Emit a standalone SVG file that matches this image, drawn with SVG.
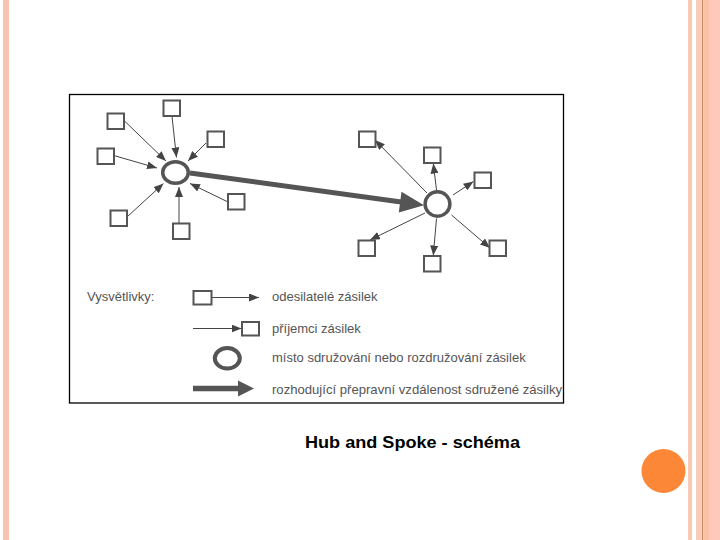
<svg xmlns="http://www.w3.org/2000/svg" width="720" height="540" viewBox="0 0 720 540">
<defs>
<marker id="ah" markerUnits="userSpaceOnUse" markerWidth="10" markerHeight="8" refX="10" refY="4" orient="auto">
<path d="M0,0 L10,4 L0,8 z" fill="#444"/>
</marker>
</defs>
<style>
.sq{fill:#fff;stroke:#555;stroke-width:2}
.sp{stroke:#444;stroke-width:1;fill:none;marker-end:url(#ah)}
.hub{fill:#fff;stroke:#555;stroke-width:3.5}
.lg{font-family:"Liberation Sans",Arial,sans-serif;font-size:13px;fill:#555}
</style>
<rect width="720" height="540" fill="#fff"/>
<g id="decor">
<rect x="3" y="0" width="6" height="540" fill="#f8c4b0"/>
<rect x="688" y="0" width="4" height="540" fill="#f8c8b4"/>
<rect x="696" y="0" width="6" height="540" fill="#f9ccb9"/>
<rect x="702" y="0" width="1.3" height="540" fill="#d08a63"/>
<rect x="703.3" y="0" width="6" height="540" fill="#fcc2a8"/>
<rect x="709" y="0" width="11" height="540" fill="#ffc9ba"/>
<circle cx="663.5" cy="471" r="22" fill="#fb8737"/>
</g>
<rect x="69.5" y="94.5" width="494" height="308.5" fill="#fff" stroke="#000" stroke-width="1.3"/>
<g id="connectors">
<line class="sp" x1="125" y1="121.5" x2="166" y2="161"/>
<line class="sp" x1="172" y1="116.5" x2="176.5" y2="157.5"/>
<line class="sp" x1="206" y1="143" x2="188" y2="161"/>
<line class="sp" x1="114.5" y1="155.7" x2="157" y2="168"/>
<line class="sp" x1="227" y1="201.5" x2="190" y2="183.5"/>
<line class="sp" x1="127.5" y1="216.5" x2="163.5" y2="183.5"/>
<line class="sp" x1="179" y1="223" x2="179" y2="187"/>
<line class="sp" x1="427" y1="193" x2="375" y2="140"/>
<line class="sp" x1="436.5" y1="190" x2="433.3" y2="163.5"/>
<line class="sp" x1="453" y1="195" x2="473.5" y2="181.5"/>
<line class="sp" x1="425" y1="213" x2="370" y2="240"/>
<line class="sp" x1="451.5" y1="215" x2="490" y2="248"/>
<line class="sp" x1="436.5" y1="218.5" x2="433.3" y2="255.5"/>
<line x1="190" y1="173" x2="403" y2="202.3" stroke="#555" stroke-width="5"/>
<path d="M424,205.2 L401.5,191.8 L398.8,212.6 z" fill="#555"/>
</g>
<g id="hub-left"><ellipse class="hub" cx="175.5" cy="172.5" rx="12.8" ry="10.8"/></g>
<g id="hub-right"><ellipse class="hub" cx="437.5" cy="204" rx="12.4" ry="12.2"/></g>
<g id="senders">
<rect class="sq" x="107.5" y="113.5" width="16.5" height="15.5"/>
<rect class="sq" x="163.5" y="100.5" width="16.5" height="15.5"/>
<rect class="sq" x="207.5" y="131.5" width="16.5" height="15.5"/>
<rect class="sq" x="97.5" y="148.5" width="16.5" height="15.5"/>
<rect class="sq" x="228" y="194" width="16.5" height="15.5"/>
<rect class="sq" x="110.5" y="210.5" width="16.5" height="15.5"/>
<rect class="sq" x="173" y="223.5" width="16.5" height="15.5"/>
</g>
<g id="receivers">
<rect class="sq" x="359" y="131.5" width="16.5" height="15.5"/>
<rect class="sq" x="424" y="147.5" width="16.5" height="15.5"/>
<rect class="sq" x="474.5" y="172.5" width="16.5" height="15.5"/>
<rect class="sq" x="358.5" y="240.5" width="16.5" height="15.5"/>
<rect class="sq" x="489.5" y="240.5" width="16.5" height="15.5"/>
<rect class="sq" x="424" y="256" width="16.5" height="15.5"/>
</g>
<g id="legend">
<text class="lg" x="87" y="301">Vysvětlivky:</text>
<rect class="sq" x="193.5" y="291" width="18" height="13.5"/>
<line class="sp" x1="211.5" y1="297.5" x2="259" y2="297.5"/>
<text class="lg" x="272" y="301">odesilatelé zásilek</text>
<line class="sp" x1="193" y1="328.5" x2="241.5" y2="328.5"/>
<rect class="sq" x="242" y="322" width="17" height="13.5"/>
<text class="lg" x="272" y="333">příjemci zásilek</text>
<ellipse cx="227.3" cy="358.3" rx="12.5" ry="10.2" fill="#fff" stroke="#555" stroke-width="4"/>
<text class="lg" x="272" y="362">místo sdružování nebo rozdružování zásilek</text>
<line x1="193" y1="388.5" x2="240" y2="388.5" stroke="#555" stroke-width="5.5"/>
<path d="M254,388.5 L238,380.5 L238,396.5 z" fill="#555"/>
<text class="lg" x="272" y="393.5" textLength="290" lengthAdjust="spacingAndGlyphs">rozhodující přepravní vzdálenost sdružené zásilky</text>
</g>
<text x="305" y="448" font-family="'Liberation Sans',Arial,sans-serif" font-size="17" font-weight="bold" fill="#000" textLength="215" lengthAdjust="spacingAndGlyphs">Hub and Spoke - schéma</text>
</svg>
